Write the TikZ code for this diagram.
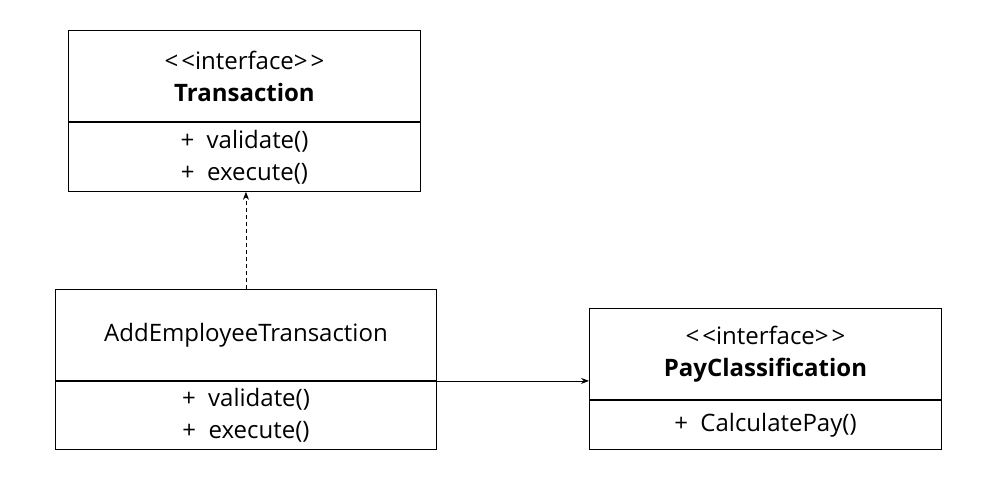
\documentclass[tikz,border=0pt]{standalone}
\usepackage{fontspec}
\setmainfont{Open Sans}
\usetikzlibrary{positioning,arrows.meta}

\begin{document}
\begin{tikzpicture}[x=1pt,y=-1pt,
    head/.style={draw, line width=0.9pt, inner sep=0pt, align=center, minimum height=91pt, font=\fontsize{24}{32}\selectfont},
    body/.style={draw, line width=0.9pt, inner sep=0pt, align=center, font=\fontsize{24}{32}\selectfont},
    divider/.style={line width=1.8pt},
    every node/.style={node distance=0pt}
    ]
    \useasboundingbox (0,0) rectangle (1001,495);

    % interface Transaction
    \node[head, minimum width=352pt, anchor=north west] (transHead) at (68,30) {<\kern3pt<interface>\kern3pt>\\\textbf{Transaction}};
    \node[body, minimum width=352pt, minimum height=69pt, below=of transHead] (transBody) {+~~validate()\\+~~execute()};

    % AddEmployeeTransaction
    \node[head, minimum width=381pt, anchor=north west] (addHead) at (55,289) {AddEmployeeTransaction};
    \node[body, minimum width=381pt, minimum height=68pt, below=of addHead] (addBody) {+~~validate()\\+~~execute()};
    \draw[divider] (addHead.south west) -- (addHead.south east);

    % interface PayClassification
    \node[head, minimum width=352pt, anchor=north west] (payHead) at (589,308) {<\kern3pt<interface>\kern3pt>\\\textbf{PayClassification}};
    \node[body, minimum width=352pt, minimum height=49pt, below=of payHead] (payBody) {+~~CalculatePay()};
    \draw[divider] (payHead.south west) -- (payHead.south east);

    % realization and association
    \draw[dashed, dash pattern=on 4pt off 3pt, line width=0.8pt, -{Stealth[length=8pt,width=6pt]}]
    (addHead.north) -- (addHead.north |- transBody.south);
    \draw[line width=0.8pt, -{Stealth[length=8pt,width=6pt]}]
    (addBody.north east) -- (addBody.north east -| payHead.west);
\end{tikzpicture}
\end{document}
